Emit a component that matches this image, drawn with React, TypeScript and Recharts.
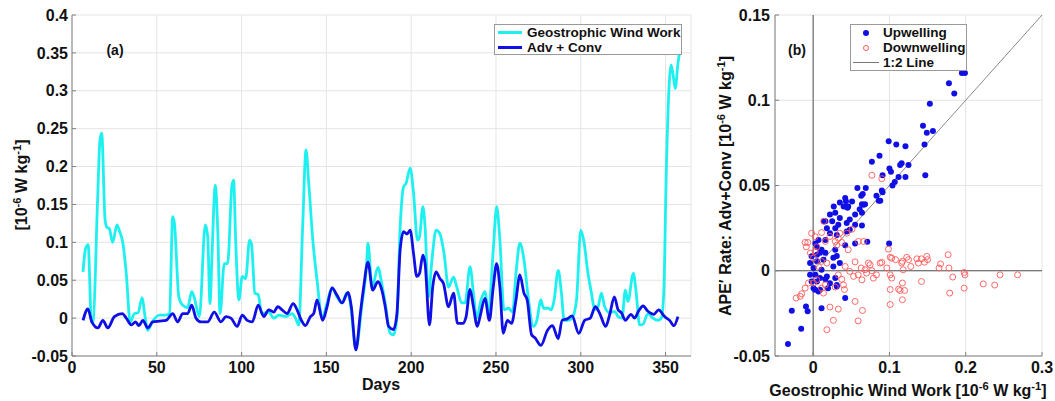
import React from 'react'
import {
  LineChart,
  Line,
  ScatterChart,
  Scatter,
  XAxis,
  YAxis,
  CartesianGrid,
  ReferenceLine,
} from 'recharts'

// panel (a): daily series, [day, 10^-6 W/kg]
const geoWindWork: [number, number][] = [
  [6.5, 0.061], [8, 0.092], [9.5, 0.097], [11.5, -0.005], [12.5, -0.004], [15, 0.15],
  [16.5, 0.235], [17.5, 0.244], [19.5, 0.13], [20.5, 0.12], [22, 0.118], [24, 0.1],
  [26.5, 0.123], [28, 0.115], [30, 0.099], [32, 0.059], [34.3, -0.005], [36.9, 0.006],
  [38.9, 0.007], [41.4, 0.027], [42.8, 0.006], [44.7, -0.016], [47.6, -0.004], [51.6, 0.004],
  [55.5, 0.004], [57.5, 0.006], [59.4, 0.134], [60.4, 0.125], [63, 0.028], [65.3, 0.017],
  [68.2, 0.014], [70.6, 0.035], [72, 0.028], [75.1, 0.002], [78.6, 0.123], [80, 0.108],
  [81.4, 0.019], [82.5, 0.08], [84.5, 0.175], [86, 0.112], [87.3, 0.006], [89.8, 0.072],
  [91.8, 0.072], [94.3, 0.175], [95.3, 0.182], [96.5, 0.103], [98.4, 0.024], [100.4, 0.055],
  [102.4, 0.052], [104.7, 0.103], [105.9, 0.097], [107.8, 0.033], [109.8, 0.031], [111.8, 0.006],
  [116, 0.008], [119, 0], [122, 0.004], [126, 0.002], [129.8, 0.006], [131.8, 0],
  [133.7, -0.009], [136, 0.12], [138, 0.222], [139.6, 0.178], [142, 0.103], [144.5, 0.05],
  [147.5, 0], [150.4, 0.02], [153.3, 0.04], [156.3, 0.028], [159.2, 0.02], [162, 0.033],
  [164, 0.022], [167.4, -0.04], [171, 0.018], [173.7, 0.07], [174.5, 0.099], [177, 0.041],
  [180.4, 0.067], [182.7, 0.045], [184.7, 0.02], [187.6, -0.02], [189.6, -0.022], [191.6, 0],
  [193.5, 0.12], [195.5, 0.173], [197, 0.178], [199.4, 0.198], [201.4, 0.165], [203.7, 0.103],
  [204.9, 0.107], [206.9, 0.147], [208.2, 0.12], [210.2, 0.028], [212.2, 0.076], [214.7, 0.116],
  [217, 0.111], [219.4, 0.085], [222, 0.041], [225, 0.054], [226.9, 0.041], [229.8, 0.02],
  [231.8, 0.02], [234.7, 0.068], [236.7, 0.033], [238.6, 0], [241.2, 0.024], [243.5, 0.035],
  [245.5, 0.006], [248.4, 0.09], [250.4, 0.147], [252.3, 0.103], [254.7, 0.011], [257.3, 0.013],
  [259.8, 0.008], [261.8, 0.059], [264.1, 0.099], [266.5, 0.077], [269, 0.028], [272, -0.011],
  [274, -0.004], [276.5, 0.024], [278, 0.013], [280.8, 0.013], [282.7, 0.011], [284.3, 0.024],
  [286.7, 0.063], [288.6, 0.033], [290.2, -0.003], [292.5, -0.003], [294.9, 0], [297.5, 0.024],
  [300, 0.116], [302, 0.099], [304, 0.063], [306.3, 0.033], [308.2, 0.011], [310.2, 0.015],
  [312.2, 0.033], [314.1, 0.015], [317.1, 0.007], [320, 0.009], [322, 0.002], [324.3, 0],
  [326.3, 0.037], [327.8, 0.022], [331, 0.059], [332.7, 0.033], [334.7, -0.009], [336.7, -0.008],
  [339.6, 0.006], [342.5, 0], [345.5, -0.003], [347.5, 0], [349, 0.037], [350.4, 0.19],
  [352.4, 0.318], [353.3, 0.334], [354.9, 0.314], [355.7, 0.303], [357.3, 0.336], [359, 0.36],
]

const advConv: [number, number][] = [
  [6.5, -0.003], [9.4, 0.012], [11.7, -0.005], [15.3, -0.013], [18.2, -0.003], [21.1, -0.013],
  [25, 0.002], [29.6, 0.006], [32, 0], [35, -0.009], [37.5, -0.005], [39.4, -0.01],
  [41.8, -0.003], [44.7, -0.013], [47.6, -0.005], [51.6, -0.004], [55.5, -0.003], [59.4, 0.006],
  [62.3, -0.005], [65.3, 0.006], [68.2, 0.006], [70.6, 0.017], [73.1, 0], [76.1, -0.005],
  [80, -0.005], [83.9, 0.008], [87.8, -0.005], [90.8, 0.002], [93.7, 0], [97.4, -0.011],
  [100.4, 0.004], [103.3, -0.003], [106.3, -0.005], [109.8, 0.017], [113.1, 0.002], [116, 0.011],
  [119, 0.008], [121.3, 0.015], [123.9, 0.011], [126.8, 0.006], [130.4, 0.019], [132.7, 0.011],
  [135.3, -0.003], [137.6, -0.01], [140.6, 0.002], [142.5, 0.006], [144.5, 0.024], [147.8, -0.003],
  [150.4, 0.015], [153.3, 0.04], [156.3, 0.03], [159.2, 0.02], [162.7, 0.034], [164.7, 0.015],
  [167.4, -0.042], [170, 0.006], [172, 0.041], [174.5, 0.074], [177.3, 0.037], [180.4, 0.048],
  [182.7, 0.037], [184.7, 0.015], [186.7, -0.011], [189.6, -0.015], [191.6, 0.006], [193.5, 0.09],
  [195.5, 0.114], [197.5, 0.111], [199.4, 0.116], [201.4, 0.085], [203.3, 0.055], [204.9, 0.059],
  [206.9, 0.083], [208.2, 0.072], [210.8, -0.009], [212.7, 0.041], [214.7, 0.061], [217, 0.052],
  [219, 0.046], [222, 0.015], [225, 0.033], [227.3, -0.007], [230.4, -0.007], [232.4, 0.002],
  [234.7, 0.038], [236.7, 0.015], [239, -0.011], [240.6, 0.002], [243.5, 0.026], [246.1, -0.003],
  [248.4, 0.041], [250.4, 0.072], [252.3, 0.041], [254.3, -0.02], [256.7, -0.003], [259.2, -0.007],
  [261.8, 0.024], [264.1, 0.057], [266.5, 0.033], [268.4, 0.024], [271, -0.022], [273, -0.026],
  [276.5, -0.036], [280.4, -0.016], [283.3, -0.01], [286.7, -0.027], [289, -0.003], [292, -0.001],
  [294.9, 0.003], [298.8, -0.02], [302.3, -0.003], [305.6, 0], [308.6, 0.015], [311.4, 0.005],
  [314.7, -0.011], [317.1, 0.005], [319.8, 0.028], [322, 0.011], [324, 0.007], [326.3, -0.003],
  [329.6, 0.005], [331.8, 0], [334, 0.009], [336.7, 0.016], [339.6, 0.009], [343.1, 0.005],
  [345.9, 0.011], [349.4, 0.002], [352.4, -0.003], [354.9, -0.01], [357.3, 0.002],
]

const dayTicks = [0, 50, 100, 150, 200, 250, 300, 350]
const rateTicksA = [-0.05, 0, 0.05, 0.1, 0.15, 0.2, 0.25, 0.3, 0.35, 0.4]

// panel (b): [wind work, APE' rate]
const upwelling: [number, number][] = [
  [0.195, 0.116], [0.199, 0.116], [0.178, 0.11], [0.185, 0.104], [0.153, 0.098], [0.144, 0.085],
  [0.149, 0.081], [0.157, 0.082], [0.146, 0.074], [0.147, 0.056], [0.099, 0.076], [0.109, 0.074],
  [0.121, 0.073], [0.125, 0.062], [0.116, 0.063], [0.114, 0.062], [0.121, 0.055], [0.087, 0.0675],
  [0.077, 0.064], [0.091, 0.056], [0.1, 0.06], [0.102, 0.058], [0.104, 0.05], [0.107, 0.052],
  [0.112, 0.055], [0.09, 0.047], [0.058, 0.0485], [0.069, 0.0485], [0.065, 0.045], [0.063, 0.044],
  [0.083, 0.044], [0.091, 0.046], [0.042, 0.0426], [0.035, 0.04], [0.051, 0.0406], [0.086, 0.041],
  [0.066, 0.0387], [0.027, 0.0377], [0.04, 0.0377], [0.046, 0.0377], [0.043, 0.0407], [0.064, 0.039],
  [0.068, 0.039], [0.088, 0.041], [0.045, 0.037], [0.061, 0.036], [0.022, 0.033], [0.029, 0.034],
  [0.055, 0.033], [0.064, 0.034], [0.016, 0.029], [0.025, 0.029], [0.035, 0.031], [0.048, 0.03],
  [0.033, 0.027], [0.044, 0.028], [0.055, 0.027], [0.018, 0.025], [0.029, 0.025], [0.044, 0.023],
  [0.048, 0.024], [0.064, 0.0265], [0.014, 0.029], [0.022, 0.022], [0.031, 0.021], [0.007, 0.018],
  [0.016, 0.018], [0.042, 0.015], [0.055, 0.016], [0.071, 0.017], [0.0996, 0.016], [0.003, 0.016],
  [0.005, 0.014], [0.011, 0.0123], [0.029, 0.0123], [-0.002, 0.0085], [0.005, 0.0094], [0.009, 0.0105],
  [0.016, 0.0105], [0.0265, 0.0076], [0.031, 0.0086], [-0.004, 0.0045], [0.005, 0.0055], [0.0135, 0.0065],
  [0.035, 0.0045], [0.0005, 0.0016], [0.011, 0.0006], [0.0265, 0.0025], [-0.004, -0.0024], [0.003, -0.0024],
  [0.009, -0.0043], [0.018, -0.0033], [0.029, -0.0043], [-0.002, -0.0063], [0.005, -0.0063], [0.016, -0.005],
  [0.022, -0.0073], [0.031, -0.0083], [0.0005, -0.0102], [0.009, -0.0112], [0.0195, -0.0102], [0.031, -0.0092],
  [0.0025, -0.0112], [0.007, -0.0121], [0.042, -0.016], [-0.028, -0.0235], [-0.0094, -0.021], [-0.0072, -0.0238],
  [0.011, -0.022], [-0.0157, -0.034], [-0.033, -0.043],
]

const downwelling: [number, number][] = [
  [0.077, 0.056], [0.09, 0.054], [-0.0105, 0.0166], [-0.007, 0.0166], [-0.009, 0.014], [0.0026, 0.0113],
  [0.0048, 0.014], [-0.002, 0.022], [0.0026, 0.02], [0.011, 0.0224], [0.016, 0.0172], [0.022, 0.0201],
  [0.033, 0.0191], [0.035, 0.022], [0.044, 0.022], [0.051, 0.0244], [0.029, 0.0172], [0.031, 0.015],
  [0.0375, 0.0166], [0.046, 0.0123], [0.0594, 0.0172], [0.066, 0.0172], [0.0987, 0.0127], [0.101, 0.0079],
  [0.103, 0.0074], [0.108, 0.0065], [0.116, 0.0045], [0.117, 0.0055], [0.118, 0.0006], [0.1227, 0.0079],
  [0.125, 0.0065], [0.128, 0.0025], [0.136, 0.007], [0.138, 0.0045], [0.146, 0.005], [0.165, 0.0016],
  [0.167, 0.004], [0.177, 0.0094], [0.178, 0.0016], [0.183, -0.0037], [0.198, -0.001], [0.199, -0.0024],
  [0.198, -0.0102], [0.179, -0.0131], [0.223, -0.0077], [0.238, -0.0084], [0.245, -0.0024], [0.268, -0.0024],
  [0.142, -0.0063], [0.117, -0.0072], [0.112, -0.0108], [0.114, -0.0116], [0.12, -0.0116], [0.117, -0.017],
  [0.101, -0.011], [0.101, -0.0198], [0.101, -0.0024], [0.103, -0.0043], [0.0725, 0.0045], [0.0747, 0.0035],
  [0.0878, 0.0045], [0.09, 0.0049], [0.0966, 0.0016], [0.055, 0.0052], [0.063, 0.0016], [0.068, 0.0006],
  [0.077, 0], [0.083, -0.0024], [0.079, -0.0043], [0.042, 0.0025], [0.048, -0.0004], [0.053, -0.0033],
  [0.059, -0.0024], [0.064, -0.0053], [0.07, -0.0014], [0.033, -0.0024], [0.0375, -0.005], [0.0397, -0.0083],
  [0.029, -0.0096], [0.041, -0.011], [0.016, -0.0083], [0.011, -0.0102], [0.0135, -0.0131], [-0.0061, -0.0072],
  [-0.0105, -0.0102], [-0.015, -0.0135], [-0.017, -0.015], [-0.0223, -0.016], [0.0005, -0.0072], [0.0048, -0.0053],
  [0.007, 0.0025], [0.011, 0.0055], [0.018, 0.0045], [0.022, -0.0213], [0.0265, -0.0291], [0.033, -0.0225],
  [0.018, -0.0346], [0.055, -0.018], [0.0646, -0.0233], [0.059, -0.0294], [-0.0035, 0.0104], [0.0005, 0.0074],
  [0.142, 0.007], [0.149, 0.0084], [0.15, 0.0065], [0.014, 0.029],
]

const ratioLine = [{ x: 0, y: 0 }, { x: 0.3, y: 0.15 }]
const windTicks = [0, 0.1, 0.2, 0.3]
const rateTicksB = [-0.05, 0, 0.05, 0.1, 0.15]

const CYAN = '#1ef0f0'
const BLUE = '#1010e6'
const RED = '#ff5a5a'
const FRAME = '#808080'
const GRID = '#e4e4e4'
const FONT = '"Liberation Sans", Arial, Helvetica, sans-serif'

const tickStyle = { fill: '#111', fontSize: 16, fontWeight: 700, fontFamily: FONT }

const toDays = (rows: [number, number][]) => rows.map(([day, value]) => ({ day, value }))
const toXY = (rows: [number, number][]) => rows.map(([x, y]) => ({ x, y }))

const Units = () => (
  <>
    [10<sup style={{ fontSize: '0.7em' }}>-6</sup> W kg<sup style={{ fontSize: '0.7em' }}>-1</sup>]
  </>
)

function TextAt({
  x,
  y,
  rotate = false,
  size = 15,
  children,
}: {
  x: number
  y: number
  rotate?: boolean
  size?: number
  children: React.ReactNode
}) {
  return (
    <div
      style={{
        position: 'absolute',
        left: x,
        top: y,
        transform: `translate(-50%, -50%)${rotate ? ' rotate(-90deg)' : ''}`,
        whiteSpace: 'nowrap',
        fontSize: size,
        lineHeight: 1,
        fontWeight: 700,
        color: '#111',
      }}
    >
      {children}
    </div>
  )
}

function LegendRow({ marker, label }: { marker: React.ReactNode; label: string }) {
  return (
    <div style={{ display: 'flex', alignItems: 'center', height: 15 }}>
      <div style={{ width: 30, display: 'flex', justifyContent: 'center' }}>{marker}</div>
      <span style={{ marginLeft: 2 }}>{label}</span>
    </div>
  )
}

export default function App() {
  return (
    <div
      style={{
        position: 'absolute',
        left: 0,
        top: 0,
        width: 1055,
        height: 401,
        background: '#fff',
        fontFamily: FONT,
        overflow: 'hidden',
      }}
    >
      <div style={{ position: 'absolute', left: 0, top: 0 }}>
        <LineChart width={700} height={401} margin={{ top: 15, right: 9, left: 0, bottom: 0 }}>
          <CartesianGrid stroke={GRID} />
          <XAxis
            dataKey="day"
            type="number"
            domain={[0, 365]}
            ticks={dayTicks}
            height={45}
            tick={tickStyle}
            stroke={FRAME}
            tickSize={-4}
            tickMargin={10}
            allowDataOverflow
          />
          <XAxis xAxisId="top" orientation="top" type="number" domain={[0, 365]} ticks={dayTicks} height={0} tick={false} stroke={FRAME} tickSize={-4} />
          <YAxis
            type="number"
            domain={[-0.05, 0.4]}
            ticks={rateTicksA}
            width={72}
            tick={tickStyle}
            stroke={FRAME}
            tickSize={-4}
            tickMargin={8}
            allowDataOverflow
          />
          <YAxis yAxisId="right" orientation="right" type="number" domain={[-0.05, 0.4]} ticks={rateTicksA} width={0} tick={false} stroke={FRAME} tickSize={-4} />
          <Line
            data={toDays(geoWindWork)}
            dataKey="value"
            type="monotone"
            stroke={CYAN}
            strokeWidth={2.8}
            dot={false}
            isAnimationActive={false}
          />
          <Line
            data={toDays(advConv)}
            dataKey="value"
            type="monotone"
            stroke={BLUE}
            strokeWidth={2.8}
            dot={false}
            isAnimationActive={false}
          />
        </LineChart>
      </div>

      <div style={{ position: 'absolute', left: 700, top: 0 }}>
        <ScatterChart width={355} height={401} margin={{ top: 15, right: 13, left: 0, bottom: 0 }}>
          <CartesianGrid stroke={GRID} />
          <XAxis
            dataKey="x"
            type="number"
            domain={[-0.05, 0.3]}
            ticks={windTicks}
            height={45}
            tick={tickStyle}
            stroke={FRAME}
            tickSize={-4}
            tickMargin={10}
            allowDataOverflow
          />
          <XAxis xAxisId="top" orientation="top" type="number" domain={[-0.05, 0.3]} ticks={windTicks} height={0} tick={false} stroke={FRAME} tickSize={-4} />
          <YAxis
            dataKey="y"
            type="number"
            domain={[-0.05, 0.15]}
            ticks={rateTicksB}
            width={75}
            tick={tickStyle}
            stroke={FRAME}
            tickSize={-4}
            tickMargin={9}
            allowDataOverflow
          />
          <YAxis yAxisId="right" orientation="right" type="number" domain={[-0.05, 0.15]} ticks={rateTicksB} width={0} tick={false} stroke={FRAME} tickSize={-4} />
          <ReferenceLine x={0} stroke="#555" strokeWidth={1} />
          <ReferenceLine y={0} stroke="#555" strokeWidth={1} />
          <ReferenceLine segment={ratioLine} stroke="#8a8a8a" strokeWidth={1} />
          <Scatter
            data={toXY(upwelling)}
            isAnimationActive={false}
            shape={(p: any) => <circle cx={p.cx} cy={p.cy} r={3} fill={BLUE} />}
          />
          <Scatter
            data={toXY(downwelling)}
            isAnimationActive={false}
            shape={(p: any) => (
              <circle cx={p.cx} cy={p.cy} r={3} fill="none" stroke={RED} strokeWidth={0.9} />
            )}
          />
        </ScatterChart>
      </div>

      {/* panel (a) text */}
      <TextAt x={115} y={50} size={14}>(a)</TextAt>
      <TextAt x={381} y={385} size={16}>Days</TextAt>
      <TextAt x={21} y={185} size={16} rotate>
        <Units />
      </TextAt>
      <div
        style={{
          position: 'absolute',
          left: 494,
          top: 24,
          width: 188,
          height: 31,
          boxSizing: 'border-box',
          border: '1px solid #9a9a9a',
          background: '#fff',
          fontSize: 13.5,
          fontWeight: 700,
          color: '#111',
        }}
      >
        <LegendRow marker={<div style={{ width: 24, height: 3, background: CYAN }} />} label="Geostrophic Wind Work" />
        <LegendRow marker={<div style={{ width: 24, height: 3, background: BLUE }} />} label="Adv + Conv" />
      </div>

      {/* panel (b) text */}
      <TextAt x={797} y={50} size={14}>(b)</TextAt>
      <TextAt x={908} y={390} size={16}>
        Geostrophic Wind Work <Units />
      </TextAt>
      <TextAt x={725} y={186} size={16} rotate>
        APE′ Rate: Adv+Conv <Units />
      </TextAt>
      <div
        style={{
          position: 'absolute',
          left: 850,
          top: 24,
          width: 117,
          height: 47,
          boxSizing: 'border-box',
          border: '1px solid #9a9a9a',
          background: '#fff',
          fontSize: 13.5,
          fontWeight: 700,
          color: '#111',
        }}
      >
        <LegendRow
          marker={<div style={{ width: 6, height: 6, borderRadius: 3, background: BLUE }} />}
          label="Upwelling"
        />
        <LegendRow
          marker={
            <div style={{ width: 6, height: 6, borderRadius: 3, boxSizing: 'border-box', border: `1px solid ${RED}` }} />
          }
          label="Downwelling"
        />
        <LegendRow marker={<div style={{ width: 26, height: 1, background: '#777' }} />} label="1:2 Line" />
      </div>
    </div>
  )
}
